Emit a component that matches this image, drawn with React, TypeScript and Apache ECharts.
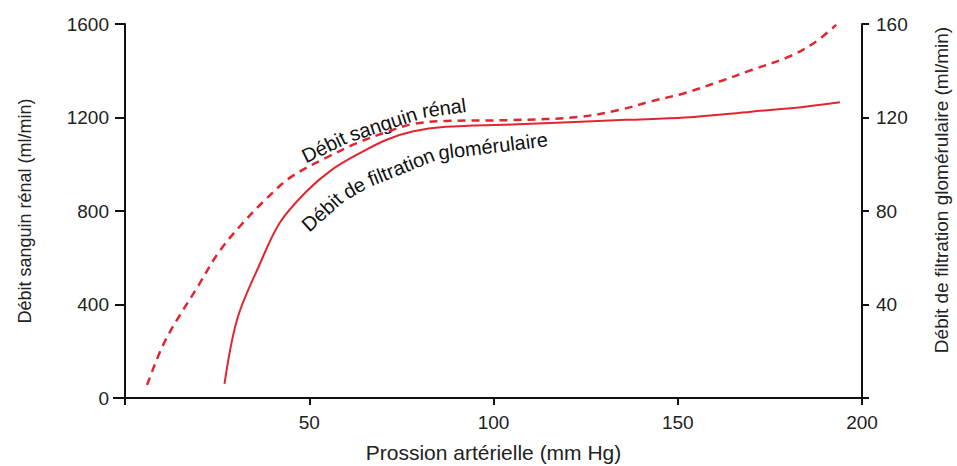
import React, { useEffect, useRef } from "react";
import * as echarts from "echarts";

const rbfPressure = [6, 11, 20, 25.5, 32, 38, 45, 55, 63, 71, 78, 87, 105, 123, 134, 143, 152, 161, 170, 180, 187, 193];
const rbfFlow = [56, 248, 483, 625, 749, 847, 945, 1031, 1091, 1138, 1172, 1185, 1189, 1202, 1232, 1270, 1305, 1352, 1403, 1459, 1519, 1596];

const gfrPressure = [27, 30.5, 36.5, 42, 49, 56, 64, 71, 78, 87, 105, 136, 152, 170, 184, 194];
const gfrRate = [6, 34, 57, 75, 88, 97.5, 105, 110.5, 114, 116, 117, 119, 120, 122.5, 124.5, 126.5];

const xTicks = [50, 100, 150, 200];
const leftTicks = [0, 400, 800, 1200, 1600];
const rightTicks = [40, 80, 120, 160];

const RED = "#e0262f";
const FONT = "'Liberation Sans', Arial, sans-serif";
const TXT = "#222";

export default function App() {
  const ref = useRef<HTMLDivElement>(null);
  useEffect(() => {
    document.body.style.margin = "0";
    const chart = echarts.init(ref.current!, null, { renderer: "svg" });
    const words = (list: [string, number, number, number][]) =>
      list.map(([t, x, y, a]) => ({
        type: "text",
        x,
        y,
        rotation: (a * Math.PI) / 180,
        style: { text: t, fill: "#111", font: `20px ${FONT}`, align: "center", verticalAlign: "middle" },
      }));
    chart.setOption({
      animation: false,
      backgroundColor: "#fff",
      grid: { left: 125, right: 95, top: 24, bottom: 68, outerBoundsMode: "none", containLabel: false },
      xAxis: {
        type: "value",
        min: 0,
        max: 200,
        interval: 50,
        name: "Prossion artérielle (mm Hg)",
        nameLocation: "middle",
        nameGap: 44,
        nameTextStyle: { fontFamily: FONT, fontSize: 21, color: TXT },
        splitLine: { show: false },
        axisLine: { lineStyle: { color: "#111", width: 2 } },
        axisTick: { inside: false, length: 7, lineStyle: { color: "#111", width: 2 } },
        axisLabel: {
          margin: 15,
          fontFamily: FONT,
          fontSize: 19,
          color: TXT,
          formatter: (v: number) => (xTicks.includes(v) ? String(v) : ""),
        },
      },
      yAxis: [
        {
          type: "value",
          min: 0,
          max: 1600,
          interval: 400,
          position: "left",
          name: "Débit sanguin rénal (ml/min)",
          nameLocation: "middle",
          nameRotate: 90,
          nameGap: 91,
          nameTextStyle: { fontFamily: FONT, fontSize: 18, color: TXT },
          splitLine: { show: false },
          axisLine: { show: true, lineStyle: { color: "#111", width: 2 } },
          axisTick: { show: true, length: 10, lineStyle: { color: "#111", width: 2 } },
          axisLabel: {
            margin: 16,
            fontFamily: FONT,
            fontSize: 19,
            color: TXT,
            formatter: (v: number) => (leftTicks.includes(v) ? String(v) : ""),
          },
        },
        {
          type: "value",
          min: 0,
          max: 160,
          interval: 40,
          position: "right",
          splitLine: { show: false },
          axisLine: { show: true, lineStyle: { color: "#111", width: 2 } },
          axisTick: { show: true, length: 7, lineStyle: { color: "#111", width: 2 } },
          axisLabel: {
            margin: 14,
            fontFamily: FONT,
            fontSize: 19,
            color: TXT,
            formatter: (v: number) => (rightTicks.includes(v) ? String(v) : ""),
          },
        },
      ],
      series: [
        {
          name: "Débit sanguin rénal",
          type: "line",
          yAxisIndex: 0,
          smooth: 0.35,
          showSymbol: false,
          lineStyle: { color: RED, width: 2.5, type: [8, 6] },
          data: rbfPressure.map((p, i) => [p, rbfFlow[i]]),
        },
        {
          name: "Débit de filtration glomérulaire",
          type: "line",
          yAxisIndex: 1,
          smooth: 0.35,
          showSymbol: false,
          lineStyle: { color: RED, width: 2 },
          data: gfrPressure.map((p, i) => [p, gfrRate[i]]),
        },
      ],
      graphic: [
        { type: "line", shape: { x1: 113, y1: 398, x2: 125, y2: 398 }, style: { stroke: "#111", lineWidth: 2 } },
        {
          type: "text",
          x: 941,
          y: 190,
          rotation: Math.PI / 2,
          style: {
            text: "Débit de filtration glomérulaire (ml/min)",
            fill: TXT,
            font: `19px ${FONT}`,
            align: "center",
            verticalAlign: "middle",
          },
        },
        ...words([
          ["Débit", 324, 147, 26],
          ["sanguin", 383, 124, 18],
          ["rénal", 444, 108, 8],
          ["Débit", 322, 212, 42],
          ["de", 354, 188, 30],
          ["filtration", 401, 167, 22],
          ["glomérulaire", 493, 146, 7],
        ]),
      ],
    });
    return () => chart.dispose();
  }, []);
  return <div ref={ref} style={{ width: 957, height: 466 }} />;
}
